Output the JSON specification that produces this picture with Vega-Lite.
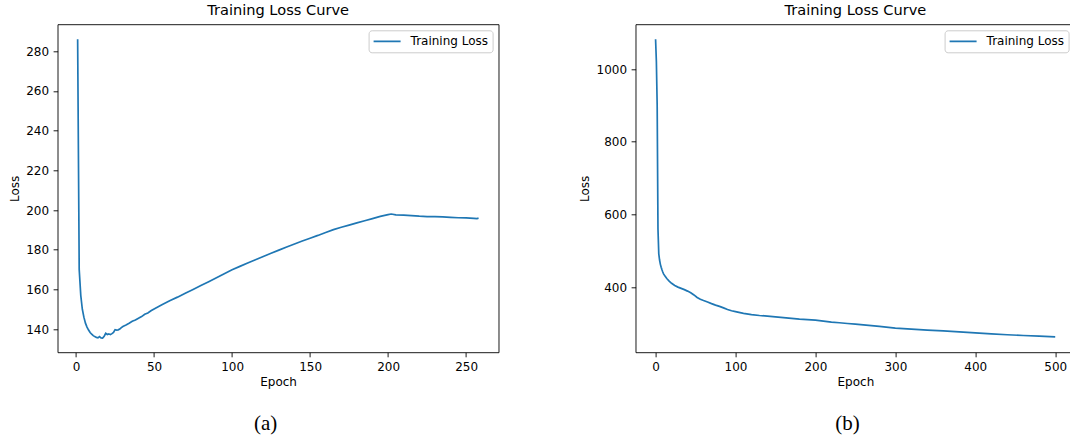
{
  "$schema": "https://vega.github.io/schema/vega-lite/v6.json",
  "background": "white",
  "padding": {"left": 7.6, "top": 1.3, "right": 0, "bottom": 0},
  "datasets": {
    "a": [
      {"epoch": 1, "loss": 286.1}, {"epoch": 2, "loss": 170}, {"epoch": 3, "loss": 157}, {"epoch": 4, "loss": 150},
      {"epoch": 5, "loss": 146}, {"epoch": 6, "loss": 143}, {"epoch": 7, "loss": 141}, {"epoch": 8, "loss": 139.5},
      {"epoch": 9, "loss": 138.3}, {"epoch": 10, "loss": 137.4}, {"epoch": 11, "loss": 136.7}, {"epoch": 12, "loss": 136.2},
      {"epoch": 13, "loss": 135.8}, {"epoch": 14, "loss": 135.6}, {"epoch": 15, "loss": 136.2}, {"epoch": 16, "loss": 135.6},
      {"epoch": 17, "loss": 135.5}, {"epoch": 18, "loss": 136.4}, {"epoch": 19, "loss": 137.9}, {"epoch": 20, "loss": 137.3},
      {"epoch": 21, "loss": 137.6}, {"epoch": 22, "loss": 137.2}, {"epoch": 23, "loss": 137.7}, {"epoch": 24, "loss": 138.3},
      {"epoch": 25, "loss": 139.7}, {"epoch": 26, "loss": 139.5}, {"epoch": 27, "loss": 139.6}, {"epoch": 28, "loss": 140.0},
      {"epoch": 29, "loss": 140.7}, {"epoch": 30, "loss": 141.3}, {"epoch": 32, "loss": 142.0}, {"epoch": 34, "loss": 142.9},
      {"epoch": 36, "loss": 143.9}, {"epoch": 38, "loss": 144.6}, {"epoch": 40, "loss": 145.5}, {"epoch": 42, "loss": 146.3},
      {"epoch": 44, "loss": 147.5}, {"epoch": 46, "loss": 148.1}, {"epoch": 48, "loss": 149.2}, {"epoch": 50, "loss": 150.1},
      {"epoch": 55, "loss": 152.2}, {"epoch": 60, "loss": 154.3}, {"epoch": 65, "loss": 156.1}, {"epoch": 70, "loss": 158.1},
      {"epoch": 75, "loss": 160.0}, {"epoch": 80, "loss": 162.0}, {"epoch": 85, "loss": 163.9}, {"epoch": 90, "loss": 165.9},
      {"epoch": 95, "loss": 167.9}, {"epoch": 100, "loss": 169.9}, {"epoch": 105, "loss": 171.6}, {"epoch": 110, "loss": 173.3},
      {"epoch": 115, "loss": 174.9}, {"epoch": 120, "loss": 176.6}, {"epoch": 125, "loss": 178.2}, {"epoch": 130, "loss": 179.8},
      {"epoch": 135, "loss": 181.4}, {"epoch": 140, "loss": 182.9}, {"epoch": 145, "loss": 184.4}, {"epoch": 150, "loss": 185.8},
      {"epoch": 155, "loss": 187.2}, {"epoch": 160, "loss": 188.7}, {"epoch": 165, "loss": 190.1}, {"epoch": 170, "loss": 191.3},
      {"epoch": 175, "loss": 192.4}, {"epoch": 180, "loss": 193.5}, {"epoch": 185, "loss": 194.6}, {"epoch": 190, "loss": 195.7},
      {"epoch": 195, "loss": 196.8}, {"epoch": 200, "loss": 197.7}, {"epoch": 202, "loss": 198.0}, {"epoch": 205, "loss": 197.6},
      {"epoch": 210, "loss": 197.4}, {"epoch": 215, "loss": 197.2}, {"epoch": 220, "loss": 196.9}, {"epoch": 225, "loss": 196.7},
      {"epoch": 230, "loss": 196.7}, {"epoch": 235, "loss": 196.5}, {"epoch": 240, "loss": 196.3}, {"epoch": 245, "loss": 196.1},
      {"epoch": 250, "loss": 196.0}, {"epoch": 255, "loss": 195.8}, {"epoch": 257, "loss": 195.7}, {"epoch": 258, "loss": 195.9}
    ],
    "b": [
      {"epoch": 0, "loss": 1082}, {"epoch": 1, "loss": 1020}, {"epoch": 2, "loss": 900}, {"epoch": 3, "loss": 560},
      {"epoch": 4, "loss": 492}, {"epoch": 5, "loss": 475}, {"epoch": 6, "loss": 463}, {"epoch": 7, "loss": 455},
      {"epoch": 8, "loss": 448}, {"epoch": 9, "loss": 442}, {"epoch": 10, "loss": 437}, {"epoch": 12, "loss": 430},
      {"epoch": 14, "loss": 424}, {"epoch": 17, "loss": 417}, {"epoch": 20, "loss": 411}, {"epoch": 24, "loss": 405},
      {"epoch": 28, "loss": 400.5}, {"epoch": 32, "loss": 397}, {"epoch": 36, "loss": 393.5}, {"epoch": 40, "loss": 389.5},
      {"epoch": 44, "loss": 385}, {"epoch": 48, "loss": 379}, {"epoch": 52, "loss": 372}, {"epoch": 56, "loss": 367},
      {"epoch": 60, "loss": 363.5}, {"epoch": 65, "loss": 359.5}, {"epoch": 70, "loss": 355}, {"epoch": 75, "loss": 351},
      {"epoch": 80, "loss": 347.5}, {"epoch": 85, "loss": 343.5}, {"epoch": 90, "loss": 339}, {"epoch": 95, "loss": 335.5},
      {"epoch": 100, "loss": 333}, {"epoch": 110, "loss": 328.5}, {"epoch": 120, "loss": 325}, {"epoch": 130, "loss": 322.5},
      {"epoch": 140, "loss": 320.5}, {"epoch": 150, "loss": 318.5}, {"epoch": 160, "loss": 316.5}, {"epoch": 170, "loss": 314.5},
      {"epoch": 180, "loss": 312.5}, {"epoch": 190, "loss": 311}, {"epoch": 200, "loss": 309.5}, {"epoch": 210, "loss": 307},
      {"epoch": 220, "loss": 304.5}, {"epoch": 230, "loss": 302.5}, {"epoch": 240, "loss": 300.5}, {"epoch": 250, "loss": 298.5},
      {"epoch": 260, "loss": 296.5}, {"epoch": 280, "loss": 292.5}, {"epoch": 300, "loss": 288}, {"epoch": 320, "loss": 285},
      {"epoch": 340, "loss": 282.5}, {"epoch": 360, "loss": 280}, {"epoch": 380, "loss": 277.5}, {"epoch": 400, "loss": 274.5},
      {"epoch": 420, "loss": 272}, {"epoch": 440, "loss": 269.5}, {"epoch": 460, "loss": 267.5}, {"epoch": 480, "loss": 265.5},
      {"epoch": 500, "loss": 263.5}
    ]
  },
  "config": {
    "font": "DejaVu Sans",
    "view": {"stroke": "#000000", "strokeWidth": 0.9},
    "axis": {
      "domain": false, "grid": false, "ticks": true, "tickColor": "#000000", "tickWidth": 0.9, "tickSize": 4.5,
      "labelPadding": 4.5, "labelFont": "DejaVu Sans", "labelFontSize": 12, "labelColor": "#000000",
      "labelFlush": false, "labelOverlap": false,
      "titleFont": "DejaVu Sans", "titleFontSize": 12, "titleFontWeight": "normal", "titleColor": "#000000"
    },
    "axisX": {"titlePadding": 4},
    "axisY": {"titlePadding": 4.5},
    "title": {"font": "DejaVu Sans", "fontSize": 14.6, "fontWeight": "normal", "color": "#000000", "baseline": "bottom", "offset": 7.1},
    "legend": {
      "orient": "top-right", "offset": 6.3, "title": null, "symbolType": "stroke", "symbolSize": 729, "clipHeight": 14,
      "symbolStrokeWidth": 1.7, "labelFont": "DejaVu Sans", "labelFontSize": 12, "labelColor": "#000000",
      "labelOffset": 9, "padding": 4, "strokeColor": "#cccccc", "fillColor": "#ffffff", "cornerRadius": 3
    }
  },
  "spacing": 24,
  "vconcat": [
    {
      "spacing": 78,
      "resolve": {"scale": {"color": "independent"}, "legend": {"color": "independent"}},
      "hconcat": [
        {
          "data": {"name": "a"},
          "title": "Training Loss Curve",
          "width": 441,
          "height": 328,
          "mark": {"type": "line", "strokeWidth": 1.7, "clip": true},
          "encoding": {
            "x": {"field": "epoch", "type": "quantitative", "scale": {"domain": [-11.85, 270.85], "nice": false, "zero": false},
                  "axis": {"title": "Epoch", "values": [0, 50, 100, 150, 200, 250]}},
            "y": {"field": "loss", "type": "quantitative", "scale": {"domain": [128.3, 293.6], "nice": false, "zero": false},
                  "axis": {"title": "Loss", "format": "d", "values": [140, 160, 180, 200, 220, 240, 260, 280]}},
            "color": {"datum": "Training Loss", "type": "nominal", "scale": {"range": ["#1f77b4"]}}
          }
        },
        {
          "data": {"name": "b"},
          "title": "Training Loss Curve",
          "width": 439.6,
          "height": 328,
          "mark": {"type": "line", "strokeWidth": 1.7, "clip": true},
          "encoding": {
            "x": {"field": "epoch", "type": "quantitative", "scale": {"domain": [-25, 525], "nice": false, "zero": false},
                  "axis": {"title": "Epoch", "values": [0, 100, 200, 300, 400, 500]}},
            "y": {"field": "loss", "type": "quantitative", "scale": {"domain": [221.3, 1122.9], "nice": false, "zero": false},
                  "axis": {"title": "Loss", "format": "d", "values": [400, 600, 800, 1000]}},
            "color": {"datum": "Training Loss", "type": "nominal", "scale": {"range": ["#1f77b4"]}}
          }
        }
      ]
    },
    {
      "spacing": 344,
      "hconcat": [
        {
          "data": {"values": [{"label": "(a)"}]},
          "width": 416,
          "height": 24,
          "view": {"stroke": null},
          "mark": {"type": "text", "font": "Liberation Serif", "fontSize": 21, "baseline": "middle", "align": "center", "color": "#000000"},
          "encoding": {"text": {"field": "label", "type": "nominal"}}
        },
        {
          "data": {"values": [{"label": "(b)"}]},
          "width": 60,
          "height": 24,
          "view": {"stroke": null},
          "mark": {"type": "text", "font": "Liberation Serif", "fontSize": 21, "baseline": "middle", "align": "center", "color": "#000000"},
          "encoding": {"text": {"field": "label", "type": "nominal"}}
        }
      ]
    }
  ]
}
